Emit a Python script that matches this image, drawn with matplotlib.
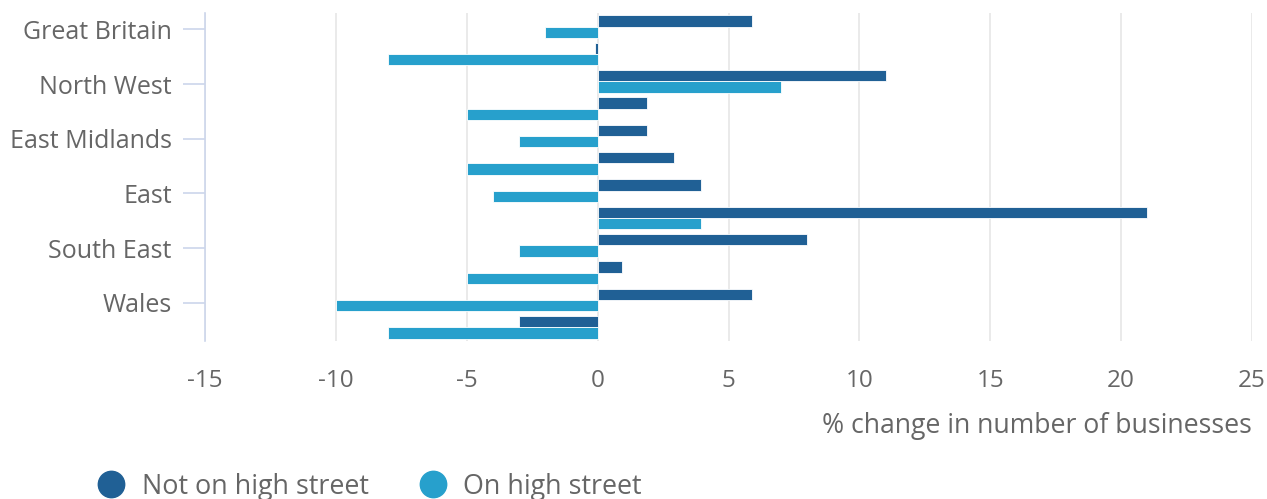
import numpy as np
import matplotlib
matplotlib.use("Agg")
import matplotlib.pyplot as plt
from matplotlib.lines import Line2D

# régions (une étiquette sur deux est affichée sur l'axe)
regions = [
    "Great Britain", "North East", "North West", "Yorkshire and The Humber",
    "East Midlands", "West Midlands", "East", "London", "South East",
    "South West", "Wales", "Scotland",
]
not_high_street = [5.9, -0.1, 11.0, 1.9, 1.9, 2.9, 3.95, 21.0, 8.0, 0.95, 5.9, -3.0]
on_high_street = [-2.0, -8.0, 7.0, -5.0, -3.0, -5.0, -4.0, 3.95, -3.0, -5.0, -10.0, -8.0]
x_ticks = [-15, -10, -5, 0, 5, 10, 15, 20, 25]
series_names = ["Not on high street", "On high street"]

DARK = "#206095"
LIGHT = "#27a0cc"
TEXT = "#666666"

plt.rcParams["font.family"] = ["Open Sans", "DejaVu Sans"]

fig = plt.figure(figsize=(12.67, 4.99), dpi=100)
ax = fig.add_axes([205 / 1267, 1 - 341 / 499, 1047 / 1267, 328 / 499])

y = np.arange(len(regions))
h = 0.42
ax.barh(y - h / 2, not_high_street, height=h, color=DARK, edgecolor="white", linewidth=0.6, zorder=3)
ax.barh(y + h / 2, on_high_street, height=h, color=LIGHT, edgecolor="white", linewidth=0.6, zorder=3)

ax.set_xlim(-15, 25)
ax.set_ylim(len(regions) - 0.5, -0.5)
ax.set_xticks(x_ticks)
ax.set_xticklabels([str(t) for t in x_ticks])
ax.set_yticks(y[::2] + 0.1)
ax.set_yticklabels(regions[::2])

ax.grid(axis="x", color="#e6e6e6", linewidth=1.2, zorder=0)
ax.set_axisbelow(True)
for s in ["top", "right", "bottom"]:
    ax.spines[s].set_visible(False)
ax.spines["left"].set_color("#ccd6eb")
ax.spines["left"].set_linewidth(1.2)
ax.spines["left"].set_zorder(4)

ax.tick_params(axis="x", length=0, pad=20, labelsize=17.5, labelcolor=TEXT)
ax.tick_params(axis="y", length=16, width=1.2, color="#ccd6eb", pad=8, labelsize=18, labelcolor=TEXT)

ax.set_xlabel("% change in number of businesses", loc="right", color=TEXT, fontsize=19.2, labelpad=14)

handles = [
    Line2D([], [], marker="o", linestyle="", markersize=19, color=DARK),
    Line2D([], [], marker="o", linestyle="", markersize=19, color=LIGHT),
]
fig.legend(handles, series_names, loc="lower left", bbox_to_anchor=(71 / 1267, -0.052),
           ncol=2, frameon=False, fontsize=19.4, labelcolor=TEXT, handletextpad=0.52,
           columnspacing=1.78, handlelength=1.2)

fig.savefig("out.png", dpi=100)
